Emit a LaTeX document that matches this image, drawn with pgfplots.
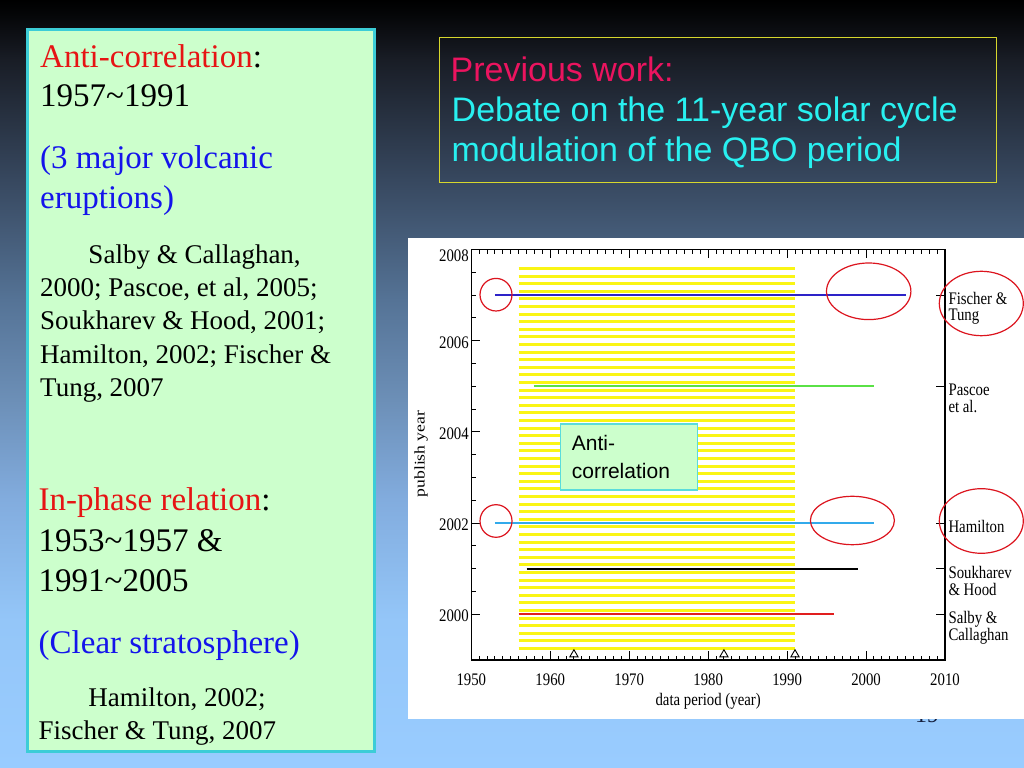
\documentclass[border=0pt]{standalone}
\usepackage{fontspec}
\setmainfont{Liberation Serif}
\newfontfamily\sansf{Liberation Sans}
\usepackage{graphicx}
\usepackage{pgfplots}
\pgfplotsset{compat=1.18}

\definecolor{boxgreen}{RGB}{204,255,204}
\definecolor{boxcyan}{RGB}{60,205,215}
\definecolor{txtred}{RGB}{230,20,20}
\definecolor{txtblue}{RGB}{20,20,235}
\definecolor{pinkred}{RGB}{235,20,95}
\definecolor{cyantxt}{RGB}{40,240,240}
\definecolor{boxyel}{RGB}{215,215,45}
\definecolor{hatch}{RGB}{250,245,20}
\definecolor{ftblue}{RGB}{45,35,200}
\definecolor{pgreen}{RGB}{90,225,70}
\definecolor{hcyan}{RGB}{50,170,235}
\definecolor{sred}{RGB}{225,30,30}
\definecolor{ellred}{RGB}{220,20,30}
\definecolor{antibord}{RGB}{90,220,220}
\definecolor{pagenum}{RGB}{20,30,60}

% slide background, black at the top to light blue at the bottom
% (the middle 25bp..75bp of the shading covers the path)
\pgfdeclareverticalshading{slidebg}{100bp}{rgb(0bp)=(0.6,0.8,1); rgb(25bp)=(0.6,0.8,1); rgb(34.64bp)=(0.58,0.776,0.973); rgb(42.45bp)=(0.51,0.675,0.871); rgb(48.96bp)=(0.424,0.561,0.718); rgb(55.47bp)=(0.333,0.451,0.588); rgb(63.28bp)=(0.216,0.282,0.373); rgb(71.09bp)=(0.098,0.114,0.149); rgb(74.02bp)=(0.02,0.024,0.031); rgb(75bp)=(0,0,0); rgb(100bp)=(0,0,0)}

% the pasted chart is stretched vertically
\newcommand\vs[1]{\scalebox{1}[1.19]{#1}}
\newcommand\cf{\fontsize{14.8bp}{13.4bp}\selectfont}
\newcommand\rl[2]{\vs{\begin{tabular}[t]{@{}l@{}}#1\\#2\end{tabular}}}
\newcommand\bigf{\fontsize{33bp}{39bp}\selectfont}
\newcommand\smf{\fontsize{27bp}{33bp}\selectfont}
\newcommand\sansbig{\sansf\fontsize{34bp}{40bp}\selectfont}

\begin{document}
\begin{tikzpicture}[x=1bp,y=1bp]
\useasboundingbox (0,0) rectangle (1024,768);
\shade[shading=slidebg] (0,0) rectangle (1024,768);

% left text box
\draw[boxcyan, line width=2.5bp, fill=boxgreen] (27.5,{768-29.5}) rectangle (374.5,{768-751.5});
\begin{scope}[every node/.style={anchor=base west, inner sep=0pt}]
\node[font=\bigf] at (40,{768-67.7}) {\textcolor{txtred}{Anti-correlation}:};
\node[font=\bigf] at (40,{768-106.7}) {1957\textasciitilde 1991};
\node[font=\bigf, text=txtblue] at (40,{768-169}) {(3 major volcanic};
\node[font=\bigf, text=txtblue] at (40,{768-209}) {eruptions)};
\node[font=\smf] at (88.3,{768-263.3}) {Salby \& Callaghan,};
\node[font=\smf] at (40,{768-296.7}) {2000; Pascoe, et al, 2005;};
\node[font=\smf] at (40,{768-330}) {Soukharev \& Hood, 2001;};
\node[font=\smf] at (40,{768-363.5}) {Hamilton, 2002; Fischer \&};
\node[font=\smf] at (40,{768-397}) {Tung, 2007};
\node[font=\bigf] at (38.5,{768-510.7}) {\textcolor{txtred}{In-phase relation}:};
\node[font=\bigf] at (38.5,{768-551.7}) {1953\textasciitilde 1957 \&};
\node[font=\bigf] at (38.5,{768-591.7}) {1991\textasciitilde 2005};
\node[font=\bigf, text=txtblue] at (38.5,{768-654}) {(Clear stratosphere)};
\node[font=\smf] at (88.3,{768-706.7}) {Hamilton, 2002;};
\node[font=\smf] at (38.5,{768-740}) {Fischer \& Tung, 2007};

% title box
\node[font=\sansbig, text=pinkred] at (450.5,{768-81.7}) {Previous work:};
\node[font=\sansbig, text=cyantxt] at (451.5,{768-121.7}) {Debate on the 11-year solar cycle};
\node[font=\sansbig, text=cyantxt] at (451.5,{768-161.7}) {modulation of the QBO period};
\end{scope}
\draw[boxyel, line width=1.3bp] (439.2,{768-37.5}) rectangle (996.5,{768-182.5});

% page number, mostly hidden by the chart
\node[anchor=base, inner sep=0pt, font=\fontsize{24bp}{28bp}\selectfont, text=pagenum] at (927,{768-723}) {19};
\fill[white] (408,{768-238.5}) rectangle (1024,{768-719.5});

\begin{axis}[
  at={(471.3bp,108bp)}, anchor=south west,
  scale only axis, width=473.7bp, height=410.5bp,
  xmin=1950, xmax=2010, ymin=1999, ymax=2008,
  xtick={1950,1960,1970,1980,1990,2000,2010},
  xticklabels={\vs{1950},\vs{1960},\vs{1970},\vs{1980},\vs{1990},\vs{2000},\vs{2010}},
  minor x tick num=9,
  ytick={2000,2002,2004,2006,2008},
  yticklabels={\vs{2000},\vs{2002},\vs{2004},\vs{2006},\raisebox{-5bp}{\vs{2008}}},
  minor y tick num=3,
  xtick pos=both, xticklabel pos=lower, ytick pos=left,
  tick align=inside,
  major tick length=9bp, minor tick length=4.5bp,
  every tick/.style={black, line width=1bp},
  axis line style={black, line width=1.3bp},
  ticklabel style={font=\cf},
  xticklabel style={anchor=base, yshift=-26bp},
  yticklabel style={anchor=base east, xshift=1bp, yshift=-7.3bp},
  xlabel={\vs{data period (year)}},
  xlabel style={font=\cf, at={(rel axis cs:0.5,0)}, anchor=base, yshift=-46bp},
  unbounded coords=jump,
  clip=false,
]
% yellow hatching of the anti-correlation period
\addplot[hatch, line width=3bp, forget plot] coordinates {
(1956,1999.25) (1991,1999.25) (nan,nan)
(1956,1999.4167) (1991,1999.4167) (nan,nan)
(1956,1999.5833) (1991,1999.5833) (nan,nan)
(1956,1999.75) (1991,1999.75) (nan,nan)
(1956,1999.9167) (1991,1999.9167) (nan,nan)
(1956,2000.0833) (1991,2000.0833) (nan,nan)
(1956,2000.25) (1991,2000.25) (nan,nan)
(1956,2000.4167) (1991,2000.4167) (nan,nan)
(1956,2000.5833) (1991,2000.5833) (nan,nan)
(1956,2000.75) (1991,2000.75) (nan,nan)
(1956,2000.9167) (1991,2000.9167) (nan,nan)
(1956,2001.0833) (1991,2001.0833) (nan,nan)
(1956,2001.25) (1991,2001.25) (nan,nan)
(1956,2001.4167) (1991,2001.4167) (nan,nan)
(1956,2001.5833) (1991,2001.5833) (nan,nan)
(1956,2001.75) (1991,2001.75) (nan,nan)
(1956,2001.9167) (1991,2001.9167) (nan,nan)
(1956,2002.0833) (1991,2002.0833) (nan,nan)
(1956,2002.25) (1991,2002.25) (nan,nan)
(1956,2002.4167) (1991,2002.4167) (nan,nan)
(1956,2002.5833) (1991,2002.5833) (nan,nan)
(1956,2002.75) (1991,2002.75) (nan,nan)
(1956,2002.9167) (1991,2002.9167) (nan,nan)
(1956,2003.0833) (1991,2003.0833) (nan,nan)
(1956,2003.25) (1991,2003.25) (nan,nan)
(1956,2003.4167) (1991,2003.4167) (nan,nan)
(1956,2003.5833) (1991,2003.5833) (nan,nan)
(1956,2003.75) (1991,2003.75) (nan,nan)
(1956,2003.9167) (1991,2003.9167) (nan,nan)
(1956,2004.0833) (1991,2004.0833) (nan,nan)
(1956,2004.25) (1991,2004.25) (nan,nan)
(1956,2004.4167) (1991,2004.4167) (nan,nan)
(1956,2004.5833) (1991,2004.5833) (nan,nan)
(1956,2004.75) (1991,2004.75) (nan,nan)
(1956,2004.9167) (1991,2004.9167) (nan,nan)
(1956,2005.0833) (1991,2005.0833) (nan,nan)
(1956,2005.25) (1991,2005.25) (nan,nan)
(1956,2005.4167) (1991,2005.4167) (nan,nan)
(1956,2005.5833) (1991,2005.5833) (nan,nan)
(1956,2005.75) (1991,2005.75) (nan,nan)
(1956,2005.9167) (1991,2005.9167) (nan,nan)
(1956,2006.0833) (1991,2006.0833) (nan,nan)
(1956,2006.25) (1991,2006.25) (nan,nan)
(1956,2006.4167) (1991,2006.4167) (nan,nan)
(1956,2006.5833) (1991,2006.5833) (nan,nan)
(1956,2006.75) (1991,2006.75) (nan,nan)
(1956,2006.9167) (1991,2006.9167) (nan,nan)
(1956,2007.0833) (1991,2007.0833) (nan,nan)
(1956,2007.25) (1991,2007.25) (nan,nan)
(1956,2007.4167) (1991,2007.4167) (nan,nan)
(1956,2007.5833) (1991,2007.5833)
};
% data periods of each study
\addplot[sred, line width=2bp] coordinates {(1956,2000) (1996,2000)};
\addplot[black, line width=2.2bp] coordinates {(1957,2001) (1999,2001)};
\addplot[hcyan, line width=2bp] coordinates {(1953,2002) (2001,2002)};
\addplot[pgreen, line width=2bp] coordinates {(1958,2005) (2001,2005)};
\addplot[ftblue, line width=2bp] coordinates {(1953,2007) (2005,2007)};
% volcanic eruptions
\addplot[only marks, mark=triangle, mark size=4.8bp, mark options={fill=white, draw=black, line width=0.9bp}]
  coordinates {(1963,1999.12) (1982,1999.12) (1991,1999.12)};
\end{axis}

% right axis with the study names
\begin{axis}[
  at={(471.3bp,108bp)}, anchor=south west,
  scale only axis, width=473.7bp, height=410.5bp,
  xmin=1950, xmax=2010, ymin=1999, ymax=2008,
  hide x axis, axis y line*=right,
  axis line style={black, line width=1.3bp},
  ytick={2000,2001,2002,2005,2007},
  yticklabels={{\rl{Salby \&}{Callaghan}},{\rl{Soukharev}{\& Hood}},{\vs{Hamilton}},{\rl{Pascoe}{et al.}},{\rl{Fischer \&}{Tung}}},
  minor tick num=0,
  tick align=inside, major tick length=9bp,
  every tick/.style={black, line width=1bp},
  yticklabel style={font=\cf, anchor=base west, yshift=-9.5bp},
]
\end{axis}

\node[rotate=90, font=\cf, inner sep=0pt] at (421,{768-454}) {\scalebox{1.19}[1]{publish year}};

% label box
\draw[antibord, line width=1.2bp, fill=boxgreen] (560.7,{768-424}) rectangle (697.3,{768-490});
\node[anchor=base west, inner sep=0pt, font=\sansf\fontsize{21bp}{25bp}\selectfont] at (571.7,{768-450.7}) {Anti-};
\node[anchor=base west, inner sep=0pt, font=\sansf\fontsize{21bp}{25bp}\selectfont] at (571.7,{768-478.3}) {correlation};

% red highlight ellipses
\begin{scope}[ellred, line width=1.2bp]
\draw (496,{768-294.7}) ellipse [x radius=16bp, y radius=16.3bp];
\draw (868.7,{768-291.3}) ellipse [x radius=42.2bp, y radius=28.3bp];
\draw (496,{768-521}) ellipse [x radius=16bp, y radius=16.3bp];
\draw (852.4,{768-520.5}) ellipse [x radius=42bp, y radius=24.2bp];
\draw (981.3,{768-303.5}) ellipse [x radius=42bp, y radius=32.2bp];
\draw (981.3,{768-521}) ellipse [x radius=42bp, y radius=32.3bp];
\end{scope}
\end{tikzpicture}
\end{document}
